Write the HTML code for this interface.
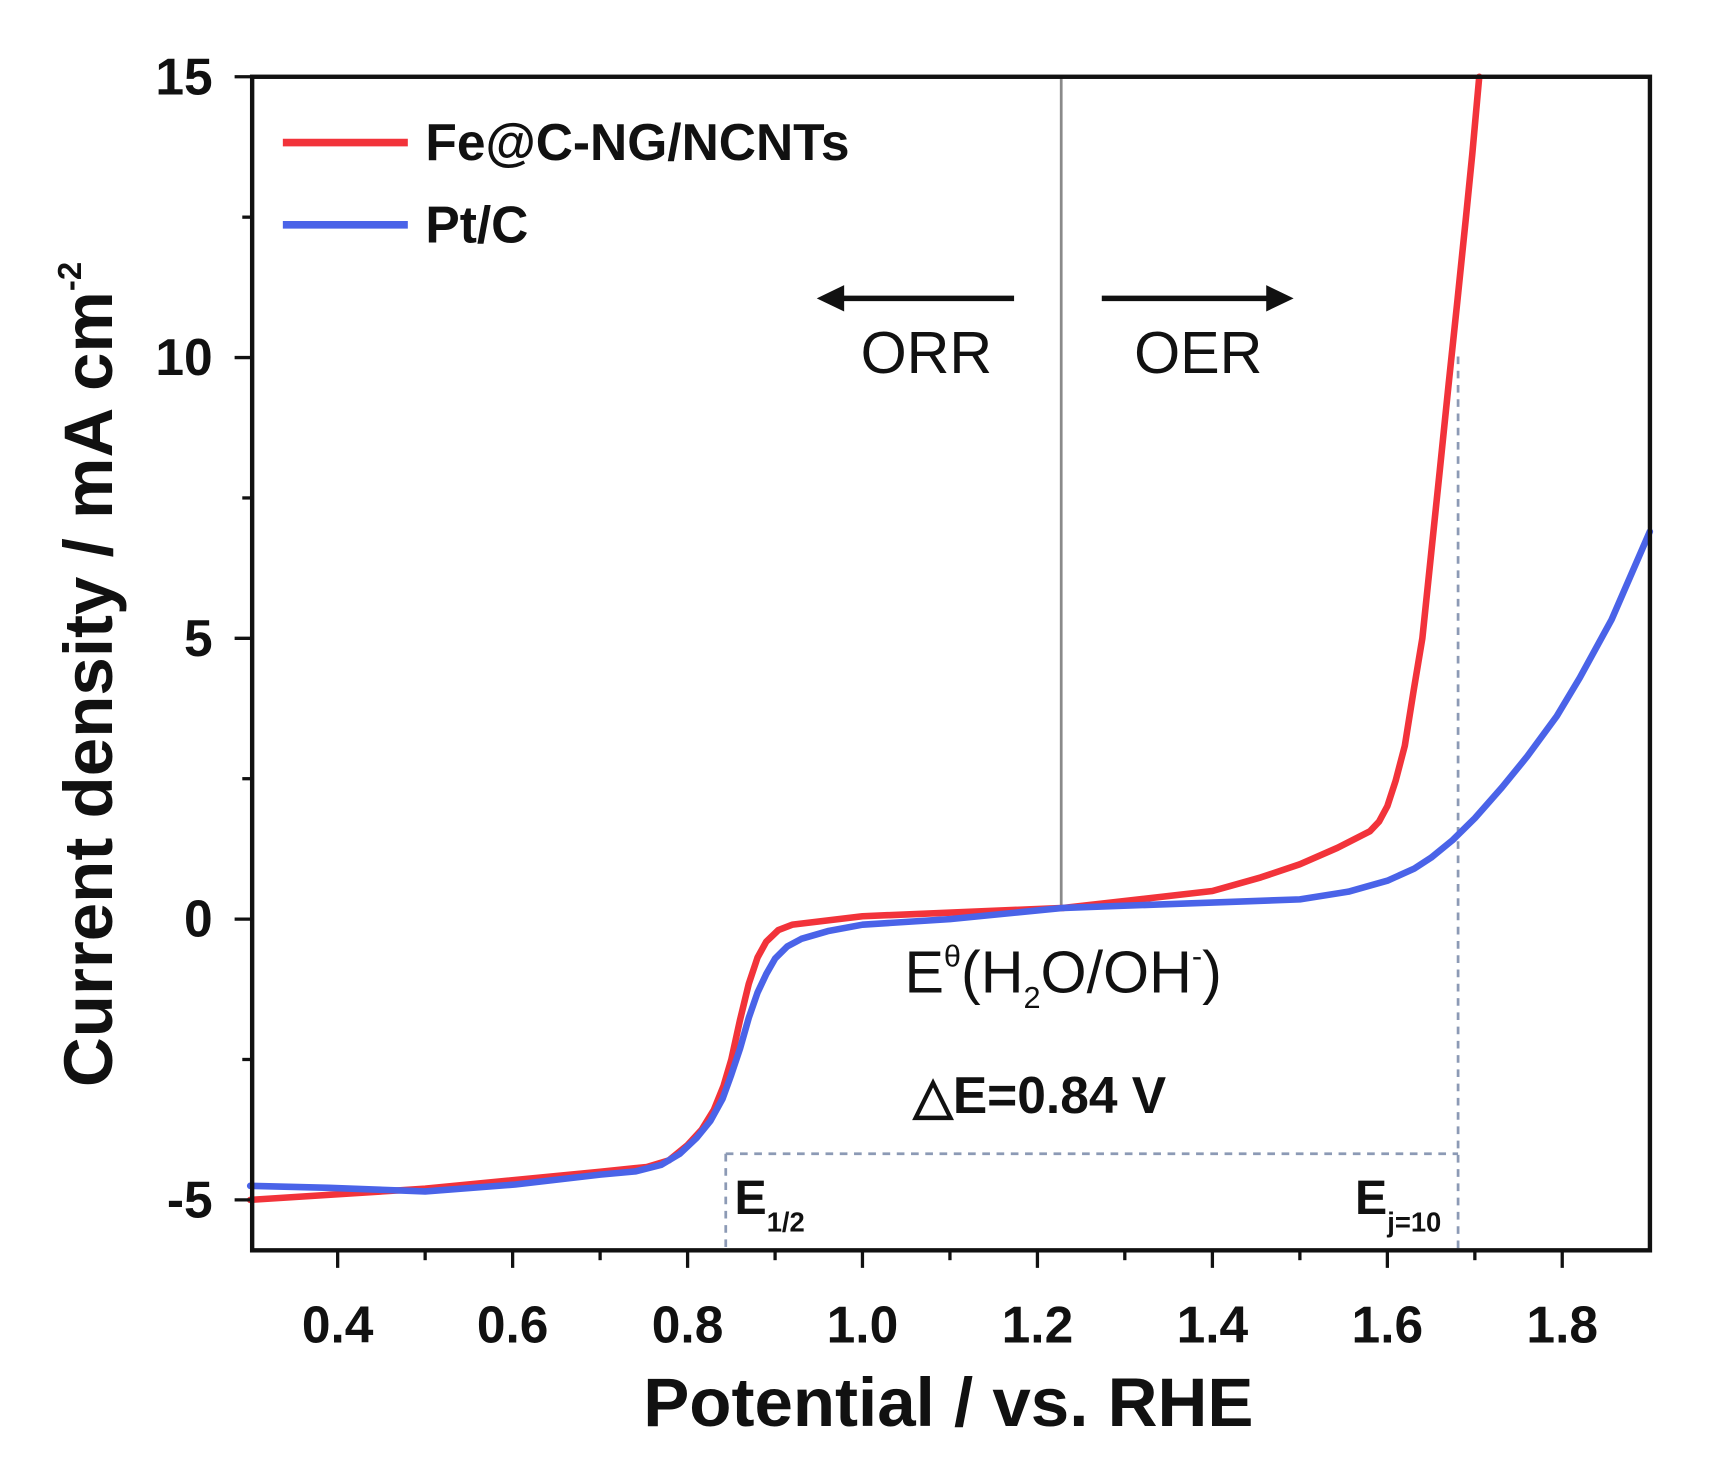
<!DOCTYPE html>
<html><head><meta charset="utf-8"><style>html,body{margin:0;padding:0;background:#fff}svg{display:block}</style></head><body>
<svg width="1719" height="1462" viewBox="0 0 1568 1333" preserveAspectRatio="none" xmlns="http://www.w3.org/2000/svg" font-family="Liberation Sans, Arial, sans-serif">
<rect width="1568" height="1333" fill="#fff"/>
<line x1="968" y1="70" x2="968" y2="830" stroke="#8a8a8a" stroke-width="2.5"/>
<g stroke="#8c9ab5" stroke-width="2.5" stroke-dasharray="7,6" fill="none">
<line x1="662" y1="1052" x2="1330" y2="1052"/>
<line x1="662" y1="1052" x2="662" y2="1140"/>
<line x1="1330" y1="325" x2="1330" y2="1140"/>
</g>
<polyline fill="none" stroke="#f2333a" stroke-width="6" stroke-linejoin="round" stroke-linecap="round" points="228.2,1094 387.8,1083.8 547.4,1068.4 590,1064 610,1058 627.2,1044 640,1030 651.1,1012 660,990 667.1,966 675,930 683,897 691,873 699,858.5 710,848 723,843 786.7,835.4 970.3,827.8 1105.9,812.4 1150,800 1185.7,788 1220,773 1249.5,758 1258,749 1265.5,735 1273,712 1281.4,680 1289.4,630 1297.4,582 1305.4,505 1313.4,428 1321.4,350 1329.3,275 1337,200 1343,140 1349.3,70"/>
<polyline fill="none" stroke="#4a63e8" stroke-width="6" stroke-linejoin="round" stroke-linecap="round" points="228.2,1081.2 300,1083 387.8,1086.3 470,1080 547.4,1071 580,1068 603.2,1062 620,1052 635.2,1037.7 648,1022 659.1,1001.8 667,980 675.1,955.8 683,928 691,905 699,888 707,874 718,863 731,856 755,849 786.7,843.1 866.5,838 970.3,827.8 1185.7,820 1230,813 1265.5,803 1290,792 1305.4,782 1325,766 1345.3,746 1370,718 1393.2,689.5 1420,653 1441,618 1470,565 1504.9,484.7"/>
<rect x="230" y="70" width="1275" height="1070" fill="none" stroke="#111" stroke-width="4"/>
<g stroke="#111" stroke-width="3">
<line x1="308" y1="1140" x2="308" y2="1156"/><line x1="467.6" y1="1140" x2="467.6" y2="1156"/><line x1="627.2" y1="1140" x2="627.2" y2="1156"/><line x1="786.7" y1="1140" x2="786.7" y2="1156"/><line x1="946.3" y1="1140" x2="946.3" y2="1156"/><line x1="1105.9" y1="1140" x2="1105.9" y2="1156"/><line x1="1265.5" y1="1140" x2="1265.5" y2="1156"/><line x1="1425" y1="1140" x2="1425" y2="1156"/>
<line x1="387.8" y1="1140" x2="387.8" y2="1149"/><line x1="547.4" y1="1140" x2="547.4" y2="1149"/><line x1="707" y1="1140" x2="707" y2="1149"/><line x1="866.5" y1="1140" x2="866.5" y2="1149"/><line x1="1026" y1="1140" x2="1026" y2="1149"/><line x1="1185.7" y1="1140" x2="1185.7" y2="1149"/><line x1="1345.3" y1="1140" x2="1345.3" y2="1149"/>
<line x1="214" y1="70" x2="230" y2="70"/><line x1="214" y1="326" x2="230" y2="326"/><line x1="214" y1="582" x2="230" y2="582"/><line x1="214" y1="838" x2="230" y2="838"/><line x1="214" y1="1094" x2="230" y2="1094"/>
<line x1="221" y1="198" x2="230" y2="198"/><line x1="221" y1="454" x2="230" y2="454"/><line x1="221" y1="710" x2="230" y2="710"/><line x1="221" y1="966" x2="230" y2="966"/>
</g>
<g font-size="47" font-weight="bold" fill="#111" text-anchor="middle">
<text x="308" y="1224">0.4</text><text x="467.6" y="1224">0.6</text><text x="627.2" y="1224">0.8</text><text x="786.7" y="1224">1.0</text><text x="946.3" y="1224">1.2</text><text x="1105.9" y="1224">1.4</text><text x="1265.5" y="1224">1.6</text><text x="1425" y="1224">1.8</text>
</g>
<g font-size="47" font-weight="bold" fill="#111" text-anchor="end">
<text x="194" y="86">15</text><text x="194" y="342">10</text><text x="194" y="598">5</text><text x="194" y="854">0</text><text x="194" y="1110">-5</text>
</g>
<text x="865" y="1300" font-size="63" font-weight="bold" text-anchor="middle" fill="#111">Potential / vs. RHE</text>
<text transform="translate(102,615) rotate(-90)" font-size="63" font-weight="bold" text-anchor="middle" fill="#111">Current density / mA cm<tspan font-size="30" dy="-28">-2</tspan></text>
<line x1="258" y1="130" x2="372" y2="130" stroke="#f2333a" stroke-width="7"/>
<line x1="258" y1="205" x2="372" y2="205" stroke="#4a63e8" stroke-width="7"/>
<text x="388" y="146" font-size="47" font-weight="bold" fill="#111">Fe@C-NG/NCNTs</text>
<text x="388" y="221" font-size="47" font-weight="bold" fill="#111">Pt/C</text>
<line x1="925" y1="272" x2="765" y2="272" stroke="#111" stroke-width="5"/>
<polygon points="745,272 770,260 770,284" fill="#111"/>
<line x1="1005" y1="272" x2="1160" y2="272" stroke="#111" stroke-width="5"/>
<polygon points="1180,272 1155,260 1155,284" fill="#111"/>
<text x="845" y="340" font-size="54" text-anchor="middle" fill="#111">ORR</text>
<text x="1093" y="340" font-size="54" text-anchor="middle" fill="#111">OER</text>
<text x="825" y="905" font-size="54" fill="#111">E<tspan font-size="28" dy="-24">θ</tspan><tspan dy="24">(H</tspan><tspan font-size="28" dy="14">2</tspan><tspan dy="-14">O/OH</tspan><tspan font-size="28" dy="-24">-</tspan><tspan dy="24">)</tspan></text>
<text x="833" y="1015" font-size="47" font-weight="bold" fill="#111">△E=0.84 V</text>
<text x="670" y="1107" font-size="44" font-weight="bold" fill="#111">E<tspan font-size="25" dy="16">1/2</tspan></text>
<text x="1236" y="1107" font-size="44" font-weight="bold" fill="#111">E<tspan font-size="25" dy="16">j=10</tspan></text>
</svg>
</body></html>
